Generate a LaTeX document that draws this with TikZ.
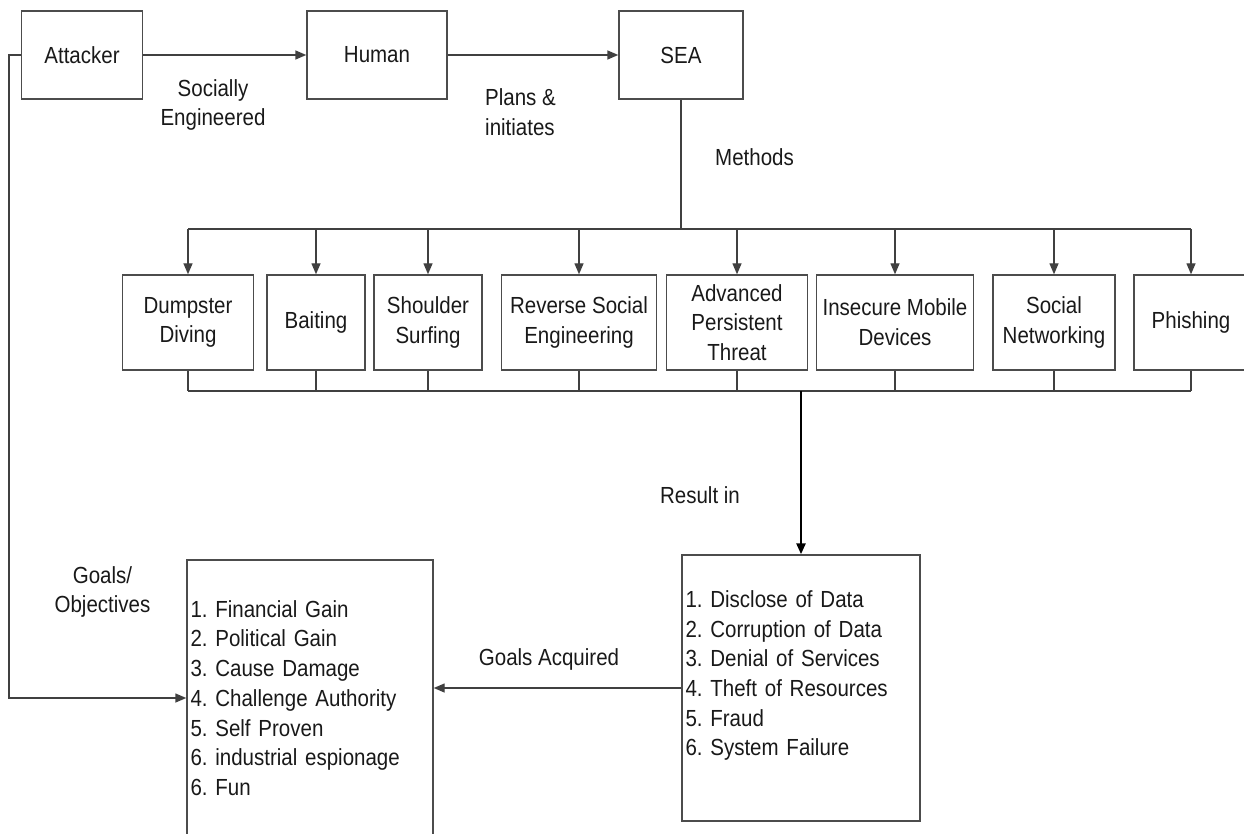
\documentclass[tikz,border=0pt]{standalone}
\usepackage{fontspec}
\setmainfont{Liberation Sans}[FakeStretch=0.88]
\usetikzlibrary{arrows.meta}
\usetikzlibrary{calc}
\usetikzlibrary{positioning}
\frenchspacing

\begin{document}
\begin{tikzpicture}[x=1pt, y=-1pt, >={Triangle[length=11pt,width=9pt]},
    box/.style={draw=black!70, line width=1.4pt, text=black!90, align=center, inner sep=2pt, font=\fontsize{23.3}{29.7}\selectfont},
    listbox/.style={box, align=left, inner sep=3.5pt},
    lbl/.style={text=black!90, align=center, inner sep=0pt, font=\fontsize{23.3}{29.7}\selectfont},
    wire/.style={black!75, line width=1.4pt}]

\def\topbus{229}
\def\lowbus{391}

% Bounding box
\useasboundingbox (0,0) rectangle (1244,834);

% Top row
\node[box, minimum width=121pt, minimum height=88pt] (attacker) at (82,55) {Attacker};
\node[box, minimum width=140pt, minimum height=88pt] (human) at (377,55) {Human};
\node[box, minimum width=124pt, minimum height=88pt] (sea) at (681,55) {SEA};

\draw[wire, ->] (attacker) -- (human);
\draw[wire, ->] (human) -- (sea);

\node[lbl] (soceng) at (213,105) {Socially\\Engineered};
\node[lbl, anchor=west, align=left] (plans) at (485,112) {Plans \&\\initiates};
\node[lbl, anchor=west] (methods) at (715,157) {Methods};

% Methods
\foreach \name/\cx/\w/\txt in {dumpster/188/131/{Dumpster\\Diving}, baiting/316/98/Baiting, shoulder/428/108/{Shoulder\\Surfing}, reverse/579/155/{Reverse Social\\Engineering}, apt/737/141/{Advanced\\Persistent\\Threat}, mobile/895/157/{Insecure Mobile\\Devices}, social/1054/122/{Social\\Networking}, phishing/1191/114/Phishing} {
    \node[box, minimum width=\w pt, minimum height=95pt] (\name) at (\cx,322.5) {\txt};
    \coordinate (top-\name) at (\cx,\topbus);
    \coordinate (low-\name) at (\cx,\lowbus);
    \draw[wire, ->] (top-\name) -- (\name.north);
    \draw[wire] (\name.south) -- (low-\name);
}

% Buses
\draw[wire] (sea.south) -- (sea.south |- top-dumpster);
\draw[wire] (top-dumpster) -- (top-phishing);
\draw[wire] (low-dumpster) -- (low-phishing);

% Results and goals
\node[listbox, text width=231pt, minimum height=266pt] (result) at (801,688)
    {1. Disclose of Data\\2. Corruption of Data\\3. Denial of Services\\4. Theft of Resources\\5. Fraud\\6. System Failure\\ \mbox{}};
\node[listbox, text width=239pt, minimum height=276pt] (goals) at (310,698)
    {1. Financial Gain\\2. Political Gain\\3. Cause Damage\\4. Challenge Authority\\5. Self Proven\\6. industrial espionage\\6. Fun};

\draw[black, line width=2.5pt, ->] (result.north |- low-dumpster) -- (result.north);
\draw[wire, ->] (result.west) -- (result.west -| goals.east);
\draw[wire, ->] (attacker.west) -- ++(-12,0) |- (goals.west);

\node[lbl] (resultin) at (700,495) {Result in};
\node[lbl] (acquired) at (549,659) {Goals Acquired};
\node[lbl] (objectives) at (102.5,592) {Goals/\\Objectives};

\end{tikzpicture}
\end{document}
